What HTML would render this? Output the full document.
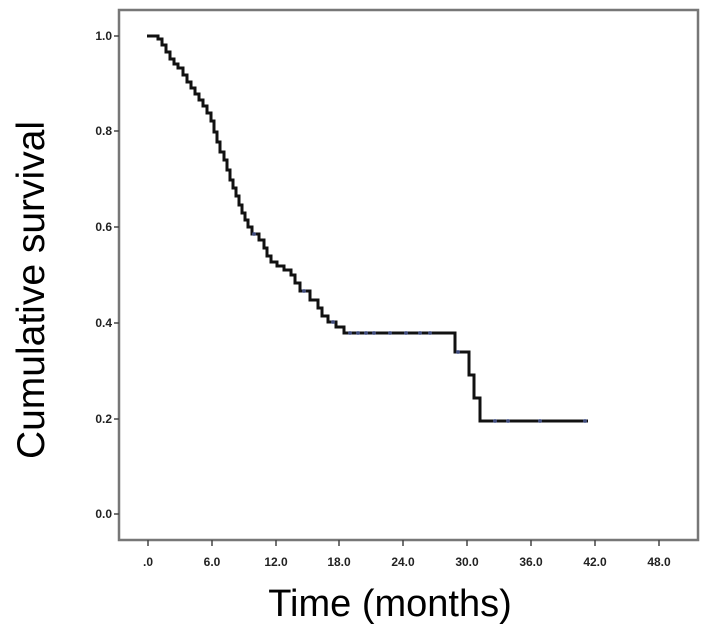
<!DOCTYPE html>
<html><head><meta charset="utf-8"><style>
html,body{margin:0;padding:0;background:#fff;}
svg{display:block;}
</style></head><body>
<svg width="714" height="641" viewBox="0 0 714 641" xmlns="http://www.w3.org/2000/svg">
<rect x="0" y="0" width="714" height="641" fill="#fff"/>
<rect x="119" y="10" width="579" height="530" fill="#fff" stroke="#777" stroke-width="2.5"/>
<g stroke="#444" stroke-width="1.5">
<line x1="114" y1="36" x2="119" y2="36"/><line x1="114" y1="131" x2="119" y2="131"/>
<line x1="114" y1="227" x2="119" y2="227"/><line x1="114" y1="323" x2="119" y2="323"/>
<line x1="114" y1="419" x2="119" y2="419"/><line x1="114" y1="514" x2="119" y2="514"/>
<line x1="148" y1="540" x2="148" y2="546"/><line x1="212" y1="540" x2="212" y2="546"/>
<line x1="276" y1="540" x2="276" y2="546"/><line x1="339" y1="540" x2="339" y2="546"/>
<line x1="403" y1="540" x2="403" y2="546"/><line x1="467" y1="540" x2="467" y2="546"/>
<line x1="531" y1="540" x2="531" y2="546"/><line x1="595" y1="540" x2="595" y2="546"/>
<line x1="659" y1="540" x2="659" y2="546"/>
</g>
<g font-family="Liberation Sans, sans-serif" font-weight="bold" font-size="12" fill="#222" text-anchor="end">
<text x="112" y="40">1.0</text><text x="112" y="135">0.8</text><text x="112" y="231">0.6</text>
<text x="112" y="327">0.4</text><text x="112" y="423">0.2</text><text x="112" y="518">0.0</text>
</g>
<g font-family="Liberation Sans, sans-serif" font-weight="bold" font-size="12" fill="#222" text-anchor="middle">
<text x="148" y="566">.0</text><text x="212" y="566">6.0</text><text x="276" y="566">12.0</text>
<text x="339" y="566">18.0</text><text x="403" y="566">24.0</text><text x="467" y="566">30.0</text>
<text x="531" y="566">36.0</text><text x="595" y="566">42.0</text><text x="659" y="566">48.0</text>
</g>
<polyline fill="none" stroke="#111" stroke-width="3" points="
147,36 158,36 158,39 162,39 162,45 166,45 166,52 170,52 170,59 174,59 174,64 178,64 178,68 183,68 183,75 187,75 187,82 191,82 191,88 195,88 195,94 199,94 199,100 203,100 203,106 207,106 207,113 211,113 211,121 214,121 214,132 217,132 217,142 220,142 220,152 224,152 224,160 227,160 227,170 230,170 230,180 233,180 233,188 236,188 236,196 239,196 239,205 242,205 242,213 245,213 245,220 248,220 248,227 252,227 252,234 259,234 259,240 264,240 264,248 267,248 267,256 271,256 271,262 277,262 277,266 284,266 284,270 291,270 291,275 295,275 295,283 300,283 300,291 310,291 310,300 318,300 318,308 322,308 322,316 328,316 328,322 336,322 336,327 344,327 344,333 455,333 455,352 469,352 469,375 474,375 474,398 480,398 480,421 588,421"/>
<g fill="#5566aa" opacity="0.7">
<circle cx="254" cy="234" r="2"/><circle cx="304" cy="291" r="2"/><circle cx="333" cy="322" r="2"/>
<circle cx="350" cy="333" r="2"/><circle cx="358" cy="333" r="2"/><circle cx="366" cy="333" r="2"/><circle cx="374" cy="333" r="2"/>
<circle cx="390" cy="333" r="2"/><circle cx="406" cy="333" r="2"/><circle cx="420" cy="333" r="2"/><circle cx="430" cy="333" r="2"/>
<circle cx="458" cy="352" r="2"/><circle cx="495" cy="421" r="2"/><circle cx="508" cy="421" r="2"/><circle cx="540" cy="421" r="2"/><circle cx="585" cy="421" r="2"/>
</g>
<text transform="translate(44,290) rotate(-90)" text-anchor="middle" font-family="Liberation Sans, sans-serif" font-size="39" fill="#000">Cumulative survival</text>
<text x="390" y="616" text-anchor="middle" font-family="Liberation Sans, sans-serif" font-size="38" fill="#000">Time (months)</text>
</svg>
</body></html>
